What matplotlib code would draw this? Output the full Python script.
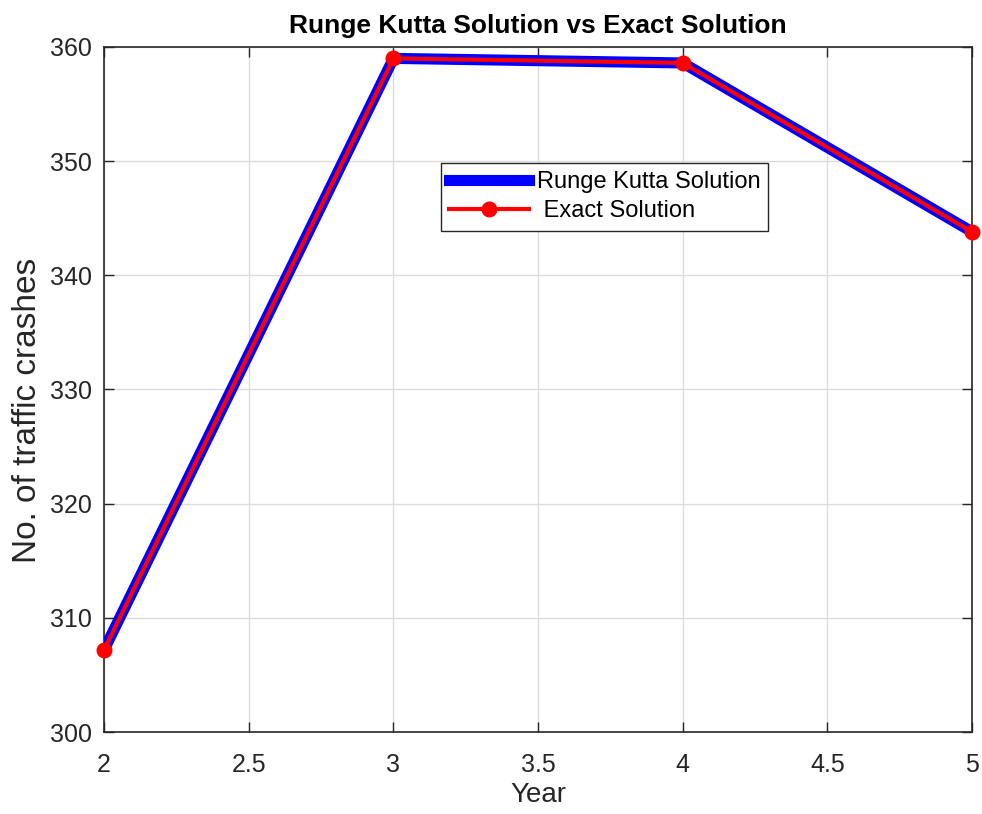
import numpy as np
import matplotlib.pyplot as plt

# data
years = [2, 3, 4, 5]
rk_crashes = [307.2, 359.0, 358.6, 343.8]
exact_crashes = [307.2, 359.0, 358.6, 343.8]

plt.rcParams['font.family'] = ['Liberation Sans', 'DejaVu Sans']

fig = plt.figure(figsize=(9.82, 8.14), dpi=100)
ax = fig.add_axes([0.106, 0.1007, 0.884, 0.8416])

ax.plot(years, rk_crashes, color='#0000ff', linewidth=8,
        label='Runge Kutta Solution', zorder=3)
ax.plot(years, exact_crashes, color='#ff0000', linewidth=3, marker='o', markersize=10.5,
        label=' Exact Solution', zorder=4, clip_on=False)

ax.set_xlim(2, 5)
ax.set_ylim(300, 360)
ax.set_xticks(np.arange(2, 5.01, 0.5))
ax.set_xticklabels(['2', '2.5', '3', '3.5', '4', '4.5', '5'])
ax.set_yticks(np.arange(300, 361, 10))

ax.grid(True, color='#dcdcdc', linewidth=1)
ax.set_axisbelow(True)
ax.tick_params(direction='in', top=True, right=True, length=7, width=1,
               colors='#262626', labelsize=18)
ax.tick_params(axis='x', pad=15)
ax.tick_params(axis='y', pad=9)
for s in ax.spines.values():
    s.set_color('#262626')
    s.set_linewidth(1.2)

ax.set_xlabel('Year', fontsize=20, color='#262626', labelpad=4)
ax.set_ylabel('No. of traffic crashes', fontsize=24, color='#262626')
ax.yaxis.set_label_coords(-0.07, 0.47)
ax.set_title('Runge Kutta Solution vs Exact Solution', fontsize=19, fontweight='bold',
             color='black', pad=10)

leg = ax.legend(loc='upper left', bbox_to_anchor=(0.388, 0.8307), borderaxespad=0,
                fontsize=17, frameon=True, fancybox=False, edgecolor='#262626',
                framealpha=1, handlelength=3.4, borderpad=0.35, labelspacing=0.3,
                handletextpad=0.3)
leg.get_frame().set_linewidth(1)

fig.savefig('out.png', dpi=100)
